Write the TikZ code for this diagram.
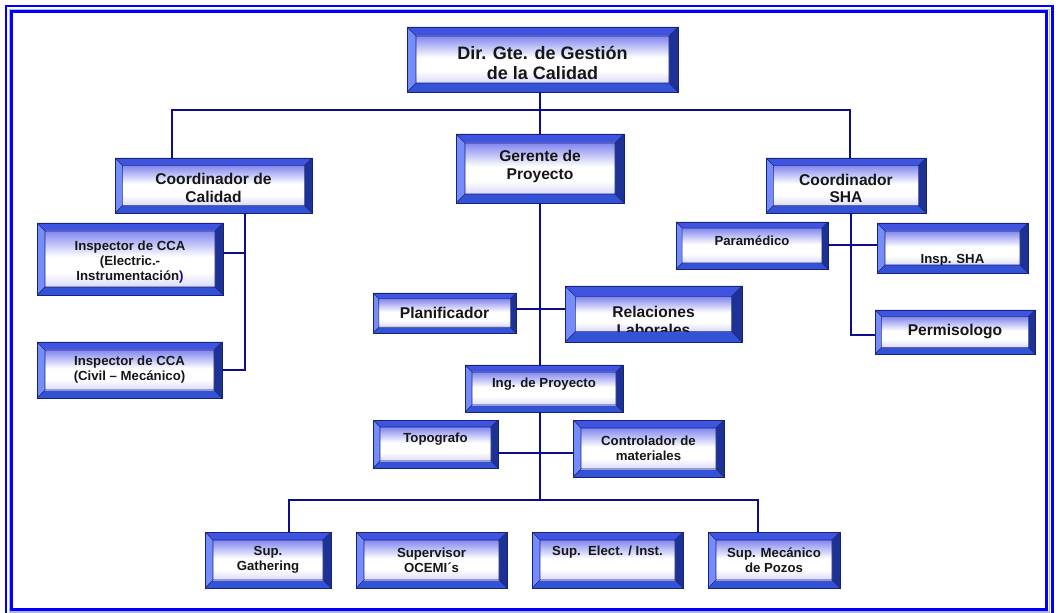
\documentclass[tikz,border=0pt]{standalone}
\usepackage{fontspec}
\setmainfont{Liberation Sans}
\usetikzlibrary{calc}

\definecolor{bvTop}{RGB}{64,84,226}
\definecolor{bvLeft}{RGB}{118,140,250}
\definecolor{bvBot}{RGB}{52,82,214}
\definecolor{bvRight}{RGB}{30,50,150}
\definecolor{bvEdge}{RGB}{22,34,120}
\definecolor{faceTop}{RGB}{128,134,238}
\definecolor{faceBot}{RGB}{218,218,252}
\definecolor{linkBlue}{RGB}{14,14,140}
\definecolor{frameBlue}{RGB}{0,0,255}
\definecolor{frameHalo}{RGB}{175,175,255}
\definecolor{ink}{RGB}{22,22,22}

% face of a box: blue along the top edge, white in the middle, a faint tint below
\pgfdeclareverticalshading{orgface}{100bp}{%
  color(0bp)=(faceBot); color(25bp)=(faceBot); color(38bp)=(white);
  color(52bp)=(white); color(75bp)=(faceTop); color(100bp)=(faceTop)}

\tikzset{
  bevel/.store in=\bevw, bevel=6pt,
  boxw/.style={minimum width=#1*0.75pt},
  boxh/.style={minimum height=#1*0.75pt},
  orgbox/.style={rectangle, inner sep=0pt, outer sep=0pt,
    draw=bvEdge, line width=0.5pt,
    path picture={
      \coordinate (bvSW) at (path picture bounding box.south west);
      \coordinate (bvNE) at (path picture bounding box.north east);
      \coordinate (bvSE) at (bvSW -| bvNE);
      \coordinate (bvNW) at (bvNE -| bvSW);
      \coordinate (bviSW) at ([shift={(\bevw,\bevw)}]bvSW);
      \coordinate (bviNE) at ([shift={(-\bevw,-\bevw)}]bvNE);
      \coordinate (bviSE) at (bviSW -| bviNE);
      \coordinate (bviNW) at (bviNE -| bviSW);
      \fill[bvTop] (bvNW) -- (bvNE) -- (bviNE) -- (bviNW) -- cycle;
      \fill[bvLeft] (bvSW) -- (bvNW) -- (bviNW) -- (bviSW) -- cycle;
      \fill[bvBot] (bvSW) -- (bvSE) -- (bviSE) -- (bviSW) -- cycle;
      \fill[bvRight] (bvSE) -- (bvNE) -- (bviNE) -- (bviSE) -- cycle;
      \shade[shading=orgface] (bviSW) rectangle (bviNE);
      \draw[bvEdge, line width=0.4pt] (bviSW) rectangle (bviNE)
        (bvSW) -- (bviSW) (bvSE) -- (bviSE) (bvNE) -- (bviNE) (bvNW) -- (bviNW);
    }},
  lbl/.style={inner sep=0pt, align=center, text=ink},
  smalltxt/.style={lbl, font=\fontsize{9.9pt}{11.25pt}\selectfont\bfseries},
  midtxt/.style={lbl, font=\fontsize{11.7pt}{13.1pt}\selectfont\bfseries},
  bigtxt/.style={lbl, font=\fontsize{13.5pt}{15pt}\selectfont\bfseries},
  link/.style={draw=linkBlue, line width=1.5pt},
}

% box node plus its caption
\newcommand\orgunit[6]{%
  \node[orgbox,#3] (#1) at #2 {};
  \node[#5] (#1-t) at ([yshift=#4]#1.center) {#6};
}
% box node whose caption is cut off at the lower edge of the face
\newcommand\orgunitclip[7]{%
  \node[orgbox,#3,bevel=#7] (#1) at #2 {};
  \begin{scope}
    \clip ([shift={(#7,#7)}]#1.south west) rectangle ([shift={(-#7,-#7)}]#1.north east);
    \node[#5] (#1-t) at ([yshift=#4]#1.center) {#6};
  \end{scope}
}

\begin{document}
\begin{tikzpicture}[x=0.75pt,y=-0.75pt]
\useasboundingbox (0,0) rectangle (1058,613);

% double frame
\draw[frameHalo, line width=0.9pt] (9.2,9.2) rectangle (1049.4,612);
\draw[frameBlue, line width=1.6pt] (6,6) rectangle (1052.5,615);
\draw[frameBlue, line width=2.2pt] (11.9,11.9) rectangle (1046.7,609.5);

% top level
\orgunit{dir}{(542.5,59.5)}{boxw=271,boxh=65,bevel=6.75pt}{-2.6pt}{bigtxt}{Dir. Gte. de Gestión\\de la Calidad}
\orgunit{ger}{(540,168.5)}{boxw=168,boxh=69,bevel=6.75pt}{1.5pt}{midtxt}{Gerente de\\Proyecto}
\orgunit{cal}{(213.5,185.5)}{boxw=197,boxh=55,bevel=5.5pt}{-1.9pt}{midtxt}{Coordinador de\\Calidad}
\orgunit{sha}{(846,185.5)}{boxw=160,boxh=55,bevel=5.5pt}{-2.2pt}{midtxt}{Coordinador\\SHA}

% quality branch
\orgunit{inE}{(130,259)}{boxw=186,boxh=72,bevel=6pt}{-2.6pt}{smalltxt}{Inspector de CCA\\(Electric.-\\Instrumentación{\color{linkBlue})}}
\orgunit{inC}{(129.5,370)}{boxw=185,boxh=56,bevel=6pt}{0.5pt}{smalltxt}{Inspector de CCA\\(Civil – Mecánico)}

% safety branch
\orgunit{par}{(752,245.5)}{boxw=152,boxh=47,bevel=4.6pt}{3.4pt}{smalltxt}{Paramédico}
\orgunitclip{isha}{(952.5,248)}{boxw=151,boxh=50}{-9pt}{smalltxt}{Insp. SHA}{6pt}
\orgunit{perm}{(955,332)}{boxw=160,boxh=44,bevel=5pt}{0pt}{midtxt}{Permisologo}

% project branch
\orgunit{plan}{(444.5,313)}{boxw=143,boxh=40,bevel=4.3pt}{0pt}{midtxt}{Planificador}
\orgunitclip{rel}{(653.5,314)}{boxw=177,boxh=56}{-5.25pt}{midtxt}{Relaciones\\Laborales}{8pt}
\orgunit{ing}{(544,388.5)}{boxw=158,boxh=47,bevel=5.25pt}{3.4pt}{smalltxt}{Ing. de Proyecto}
\orgunit{topo}{(435.5,444)}{boxw=125,boxh=48,bevel=5.25pt}{3.75pt}{smalltxt}{Topografo}
\orgunit{ctrl}{(648.5,448.5)}{boxw=151,boxh=57,bevel=6pt}{0pt}{smalltxt}{Controlador de\\materiales}

% supervisors
\orgunit{gat}{(268,560)}{boxw=126,boxh=56,bevel=6pt}{0pt}{smalltxt}{Sup.\\Gathering}
\orgunit{oce}{(431.5,560)}{boxw=151,boxh=56,bevel=6pt}{0pt}{smalltxt}{Supervisor\\OCEMI´s}
\orgunit{ele}{(607.5,560)}{boxw=151,boxh=56,bevel=6pt}{6pt}{smalltxt}{Sup.\ \ Elect. / Inst.}
\orgunit{mec}{(774,560)}{boxw=132,boxh=56,bevel=6pt}{0pt}{smalltxt}{Sup. Mecánico\\de Pozos}

% connectors
\coordinate (busL) at (172,110);
\coordinate (busR) at (850,110);
\draw[link] (dir.south -| ger.north) -- (ger.north);
\draw[link] (busL |- cal.north) -- (busL) -- (busR) -- (busR |- sha.north);

\coordinate (calV) at (245,0);
\coordinate (inEx) at ([yshift=4.5pt]inE.east);
\draw[link] (calV |- cal.south) |- (inC.east);
\draw[link] (inEx) -- (calV |- inEx);

\coordinate (shaV) at (851,0);
\coordinate (permX) at ([yshift=-2.2pt]perm.west);
\draw[link] (shaV |- sha.south) |- (permX);
\draw[link] (par.east) -- (par.east -| isha.west);

\coordinate (planX) at ([yshift=3pt]plan.east);
\draw[link] (ger.south) -- (ger.south |- ing.north);
\draw[link] (planX) -- (planX -| rel.west);

\coordinate (busBL) at (289,500);
\coordinate (busBR) at (758,500);
\coordinate (topoX) at ([yshift=-6.75pt]topo.east);
\draw[link] (ger.south |- ing.south) -- (ger.south |- busBL);
\draw[link] (topoX) -- (topoX -| ctrl.west);
\draw[link] (busBL |- gat.north) -- (busBL) -- (busBR) -- (busBR |- mec.north);
\end{tikzpicture}
\end{document}
